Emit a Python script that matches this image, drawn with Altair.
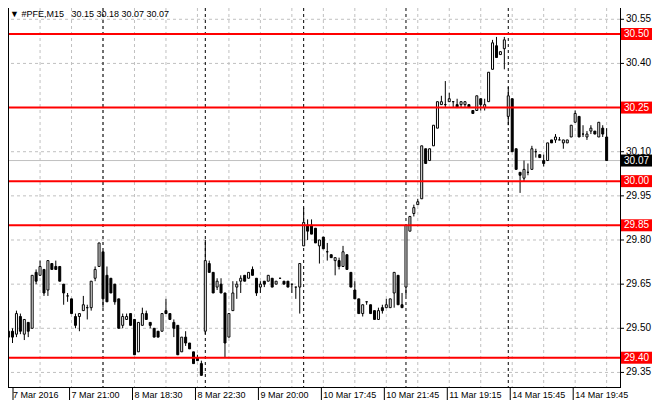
import altair as alt
import pandas as pd

# ---- data (PFE, M15) ----
opens = [29.47, 29.49, 29.48, 29.54, 29.48, 29.52, 29.50, 29.69, 29.68, 29.70,
         29.63, 29.72, 29.71, 29.71, 29.65, 29.61, 29.60, 29.54, 29.54, 29.56,
         29.57, 29.57, 29.67, 29.71, 29.76, 29.68, 29.67, 29.65, 29.60, 29.51,
         29.53, 29.55, 29.53, 29.42, 29.51, 29.55, 29.52, 29.50, 29.49, 29.49,
         29.56, 29.55, 29.52, 29.51, 29.42, 29.47, 29.45, 29.42, 29.40, 29.38,
         29.49, 29.72, 29.69, 29.64, 29.65, 29.62, 29.47, 29.56, 29.64, 29.66,
         29.68, 29.67, 29.70, 29.67, 29.64, 29.66, 29.66, 29.67, 29.65, 29.67,
         29.66, 29.66, 29.65, 29.64, 29.64, 29.78, 29.85, 29.85, 29.84, 29.78,
         29.81, 29.76, 29.75, 29.73, 29.73, 29.71, 29.75, 29.69, 29.63, 29.60,
         29.55, 29.59, 29.58, 29.56, 29.53, 29.57, 29.57, 29.57, 29.62, 29.68,
         29.58, 29.64, 29.83, 29.89, 29.92, 29.94, 30.11, 30.07, 30.12, 30.18,
         30.26, 30.26, 30.27, 30.27, 30.26, 30.26, 30.26, 30.26, 30.24, 30.24,
         30.28, 30.25, 30.27, 30.38, 30.46, 30.43, 30.45, 30.22, 30.28, 30.11,
         30.03, 30.01, 30.03, 30.04, 30.10, 30.09, 30.07, 30.07, 30.14, 30.14,
         30.14, 30.13, 30.13, 30.15, 30.20, 30.22, 30.16, 30.15, 30.17, 30.17,
         30.15, 30.18, 30.15]
highs = [29.56, 29.50, 29.56, 29.55, 29.53, 29.52, 29.68, 29.70, 29.73, 29.70,
         29.73, 29.72, 29.73, 29.71, 29.65, 29.62, 29.60, 29.55, 29.55, 29.61,
         29.58, 29.66, 29.71, 29.79, 29.76, 29.71, 29.67, 29.65, 29.60, 29.55,
         29.55, 29.55, 29.53, 29.52, 29.57, 29.56, 29.52, 29.50, 29.49, 29.55,
         29.60, 29.55, 29.53, 29.51, 29.47, 29.49, 29.45, 29.42, 29.41, 29.39,
         29.80, 29.73, 29.69, 29.67, 29.67, 29.62, 29.55, 29.66, 29.66, 29.68,
         29.68, 29.69, 29.71, 29.67, 29.66, 29.66, 29.68, 29.67, 29.66, 29.67,
         29.66, 29.66, 29.65, 29.64, 29.72, 29.91, 29.87, 29.87, 29.84, 29.80,
         29.81, 29.79, 29.75, 29.74, 29.74, 29.78, 29.75, 29.69, 29.66, 29.60,
         29.58, 29.59, 29.58, 29.56, 29.57, 29.58, 29.60, 29.60, 29.69, 29.68,
         29.62, 29.85, 29.88, 29.92, 29.94, 30.12, 30.11, 30.11, 30.19, 30.27,
         30.29, 30.34, 30.30, 30.27, 30.28, 30.27, 30.27, 30.26, 30.24, 30.29,
         30.28, 30.28, 30.37, 30.48, 30.49, 30.44, 30.49, 30.32, 30.28, 30.11,
         30.03, 30.07, 30.06, 30.12, 30.11, 30.09, 30.09, 30.13, 30.14, 30.16,
         30.15, 30.14, 30.14, 30.19, 30.24, 30.22, 30.19, 30.17, 30.19, 30.17,
         30.20, 30.19, 30.18]
lows = [29.46, 29.45, 29.47, 29.48, 29.46, 29.47, 29.50, 29.65, 29.68, 29.61,
        29.61, 29.70, 29.70, 29.66, 29.58, 29.59, 29.55, 29.50, 29.49, 29.56,
        29.53, 29.56, 29.66, 29.71, 29.57, 29.59, 29.62, 29.58, 29.50, 29.50,
        29.53, 29.51, 29.41, 29.42, 29.51, 29.53, 29.50, 29.47, 29.47, 29.49,
        29.55, 29.53, 29.47, 29.41, 29.42, 29.44, 29.43, 29.38, 29.39, 29.34,
        29.48, 29.69, 29.62, 29.63, 29.62, 29.40, 29.47, 29.56, 29.60, 29.62,
        29.66, 29.67, 29.68, 29.61, 29.62, 29.64, 29.66, 29.64, 29.65, 29.67,
        29.65, 29.64, 29.62, 29.60, 29.55, 29.78, 29.80, 29.82, 29.79, 29.72,
        29.77, 29.73, 29.74, 29.68, 29.70, 29.71, 29.70, 29.64, 29.60, 29.55,
        29.54, 29.58, 29.55, 29.53, 29.53, 29.55, 29.57, 29.57, 29.57, 29.58,
        29.57, 29.61, 29.83, 29.88, 29.92, 29.94, 30.06, 30.07, 30.12, 30.18,
        30.26, 30.25, 30.27, 30.25, 30.25, 30.25, 30.25, 30.25, 30.23, 30.24,
        30.24, 30.24, 30.27, 30.38, 30.42, 30.43, 30.38, 30.19, 30.10, 30.04,
        29.96, 30.00, 30.02, 30.04, 30.08, 30.08, 30.05, 30.07, 30.13, 30.13,
        30.14, 30.11, 30.13, 30.15, 30.20, 30.15, 30.15, 30.14, 30.16, 30.16,
        30.15, 30.15, 30.07]
closes = [29.49, 29.47, 29.55, 29.49, 29.53, 29.49, 29.68, 29.66, 29.71, 29.62,
          29.73, 29.70, 29.70, 29.66, 29.62, 29.61, 29.55, 29.51, 29.55, 29.58,
          29.57, 29.66, 29.70, 29.79, 29.60, 29.59, 29.62, 29.59, 29.50, 29.54,
          29.54, 29.51, 29.41, 29.52, 29.55, 29.53, 29.51, 29.47, 29.47, 29.55,
          29.55, 29.53, 29.50, 29.41, 29.47, 29.45, 29.43, 29.38, 29.39, 29.34,
          29.73, 29.69, 29.62, 29.66, 29.62, 29.45, 29.55, 29.62, 29.65, 29.67,
          29.66, 29.69, 29.68, 29.62, 29.65, 29.65, 29.68, 29.64, 29.66, 29.67,
          29.65, 29.64, 29.65, 29.64, 29.72, 29.86, 29.83, 29.82, 29.79, 29.80,
          29.77, 29.76, 29.74, 29.74, 29.71, 29.76, 29.70, 29.64, 29.60, 29.55,
          29.58, 29.59, 29.55, 29.53, 29.56, 29.56, 29.58, 29.60, 29.69, 29.58,
          29.57, 29.85, 29.88, 29.91, 29.93, 30.12, 30.06, 30.11, 30.19, 30.27,
          30.27, 30.26, 30.28, 30.27, 30.25, 30.27, 30.27, 30.25, 30.23, 30.29,
          30.26, 30.26, 30.37, 30.47, 30.42, 30.44, 30.48, 30.29, 30.10, 30.04,
          30.02, 30.04, 30.03, 30.11, 30.10, 30.08, 30.06, 30.13, 30.13, 30.15,
          30.14, 30.14, 30.14, 30.19, 30.23, 30.15, 30.16, 30.16, 30.18, 30.16,
          30.20, 30.16, 30.07]

x_label_texts = ["7 Mar 2016", "7 Mar 21:00", "8 Mar 18:30", "8 Mar 22:30",
                 "9 Mar 20:00", "10 Mar 17:45", "10 Mar 21:45", "11 Mar 19:15",
                 "14 Mar 15:45", "14 Mar 19:45"]
x_label_bars = [0, 16, 32, 48, 64, 80, 96, 112, 128, 144]
separator_bars = [24, 50, 75, 101, 127]
grid_bars = list(range(8, 153, 8))
price_ticks = [30.55, 30.40, 30.25, 30.10, 29.95, 29.80, 29.65, 29.50, 29.35]
level_prices = [30.50, 30.25, 30.00, 29.85, 29.40]
last_price = 30.07
title_text = "\u25BC #PFE,M15\u00a0\u00a0 30.15 30.18 30.07 30.07"

# ---- geometry ----
W, H = 612, 380
X_DOM = [1.125, 154.125]
Y_DOM = [29.2971, 30.5883]
FONT = "Liberation Sans"

xs = alt.Scale(domain=X_DOM, nice=False, zero=False)
ys = alt.Scale(domain=Y_DOM, nice=False, zero=False)

candles = pd.DataFrame({"i": range(len(opens)), "o": opens, "h": highs, "l": lows, "c": closes})
grid_df = pd.DataFrame({"i": grid_bars})
sep_df = pd.DataFrame({"i": separator_bars})
ptick_df = pd.DataFrame({"p": price_ticks, "lbl": [f"{p:.2f}" for p in price_ticks]})
# the 30.25 scale label is covered by the 30.25 level tag in the reference
ptick_txt_df = ptick_df[~ptick_df["p"].isin(level_prices)]
level_df = pd.DataFrame({"p": level_prices, "lbl": [f"{p:.2f}" for p in level_prices]})
last_df = pd.DataFrame({"p": [last_price], "lbl": [f"{last_price:.2f}"]})
xlab_df = pd.DataFrame({"i": x_label_bars, "lbl": x_label_texts})
title_df = pd.DataFrame({"t": [title_text]})

X = lambda f: alt.X(f, scale=xs, axis=None)
Y = lambda f: alt.Y(f, scale=ys, axis=None)

vgrid = alt.Chart(grid_df).mark_rule(color="#c0c0c0", strokeDash=[3, 3], strokeWidth=1).encode(x=X("i:Q"))
hgrid = alt.Chart(ptick_df).mark_rule(color="#c0c0c0", strokeDash=[3, 3], strokeWidth=1).encode(y=Y("p:Q"))
last_line = alt.Chart(last_df).mark_rule(color="#c0c0c0", strokeWidth=1).encode(y=Y("p:Q"))
seps = alt.Chart(sep_df).mark_rule(color="black", strokeDash=[3, 3], strokeWidth=1).encode(x=X("i:Q"))

wicks = alt.Chart(candles).mark_rule(color="black", strokeWidth=1, clip=True).encode(
    x=X("i:Q"), y=Y("l:Q"), y2="h:Q")
bodies = alt.Chart(candles).mark_bar(size=2, stroke="black", strokeWidth=1, orient="vertical", clip=True).encode(
    x=X("i:Q"), y=Y("o:Q"), y2="c:Q",
    fill=alt.condition("datum.c > datum.o", alt.value("white"), alt.value("black")))

levels = alt.Chart(level_df).mark_rule(color="#ff0000", strokeWidth=2).encode(y=Y("p:Q"))

# right price scale
ptick_marks = alt.Chart(ptick_df).mark_rule(color="black", strokeWidth=1).encode(
    y=Y("p:Q"), x=alt.value(W), x2=alt.value(W + 4))
ptick_text = alt.Chart(ptick_txt_df).mark_text(align="left", baseline="middle", font=FONT, fontSize=10, color="black").encode(
    y=Y("p:Q"), x=alt.value(W + 6), text="lbl:N")

level_box = alt.Chart(level_df).mark_rule(color="#ff0000", strokeWidth=12, strokeCap="butt").encode(
    y=Y("p:Q"), x=alt.value(W + 1), x2=alt.value(W + 32))
level_text = alt.Chart(level_df).mark_text(align="left", baseline="middle", font=FONT, fontSize=10, color="white").encode(
    y=Y("p:Q"), x=alt.value(W + 4), text="lbl:N")
last_box = alt.Chart(last_df).mark_rule(color="black", strokeWidth=12, strokeCap="butt").encode(
    y=Y("p:Q"), x=alt.value(W + 1), x2=alt.value(W + 32))
last_text = alt.Chart(last_df).mark_text(align="left", baseline="middle", font=FONT, fontSize=10, color="white").encode(
    y=Y("p:Q"), x=alt.value(W + 4), text="lbl:N")

# time axis (first label held at the left edge of the visible range)
xlab_base = alt.Chart(xlab_df).transform_calculate(
    ix=f"max(datum.i, {X_DOM[0]})",
    itick=f"max(datum.i - 0.5, {X_DOM[0]})")
xtick_marks = xlab_base.mark_rule(color="black", strokeWidth=1).encode(
    x=X("itick:Q"), y=alt.value(H), y2=alt.value(H + 12))
xtick_text = xlab_base.mark_text(align="left", baseline="middle", font=FONT, fontSize=9, color="black", dx=0).encode(
    x=X("ix:Q"), y=alt.value(H + 7), text="lbl:N")

# frame
frame_left = alt.Chart(title_df).mark_rule(color="black", strokeWidth=1).encode(
    x=alt.value(0.5), y=alt.value(0), y2=alt.value(H))
frame_bottom = alt.Chart(title_df).mark_rule(color="black", strokeWidth=1).encode(
    x=alt.value(0), x2=alt.value(W), y=alt.value(H - 0.5))
frame_right = alt.Chart(title_df).mark_rule(color="black", strokeWidth=1).encode(
    x=alt.value(W + 0.5), y=alt.value(0), y2=alt.value(H))

title = alt.Chart(title_df).mark_text(align="left", baseline="middle", font=FONT, fontSize=9, color="black").encode(
    x=alt.value(2), y=alt.value(6), text="t:N")

chart = alt.layer(
    vgrid, hgrid, last_line, seps, wicks, bodies, levels,
    ptick_marks, ptick_text, level_box, level_text, last_box, last_text,
    xtick_marks, xtick_text, frame_left, frame_bottom, frame_right, title
).properties(
    width=W, height=H,
    autosize=alt.AutoSizeParams(type="none"),
    padding={"left": 0, "top": 0, "right": 32, "bottom": 13},
).configure_view(stroke=None)

chart.save("out.html", embed_options={"renderer": "svg", "actions": False})
